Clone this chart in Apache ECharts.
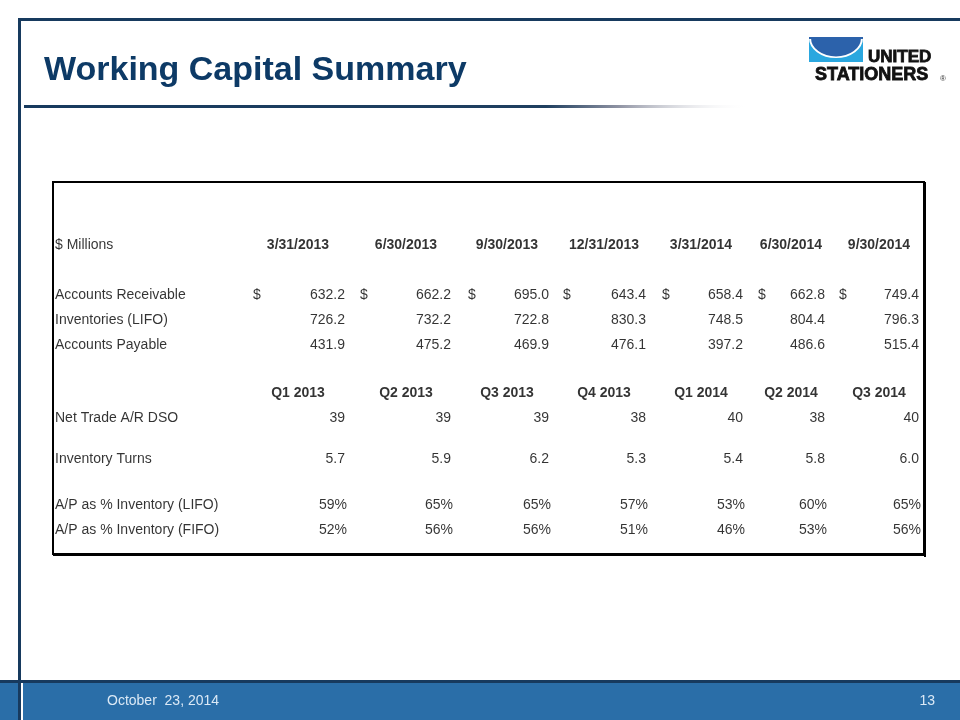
<!DOCTYPE html>
<html><head><meta charset="utf-8">
<script src="https://cdn.jsdelivr.net/npm/echarts@6/dist/echarts.min.js"></script>
<style>html,body{margin:0;padding:0;background:#fff}#c{width:960px;height:720px}</style>
</head><body><div id="c"></div>
<script>
// ---------- data ----------
const dates = ['3/31/2013','6/30/2013','9/30/2013','12/31/2013','3/31/2014','6/30/2014','9/30/2014'];
const quarters = ['Q1 2013','Q2 2013','Q3 2013','Q4 2013','Q1 2014','Q2 2014','Q3 2014'];
const rowLabels = ['$ Millions','Accounts Receivable','Inventories (LIFO)','Accounts Payable',
  'Net Trade A/R DSO','Inventory Turns','A/P as % Inventory (LIFO)','A/P as % Inventory (FIFO)'];
const accountsReceivable = [632.2, 662.2, 695.0, 643.4, 658.4, 662.8, 749.4];
const inventoriesLIFO = [726.2, 732.2, 722.8, 830.3, 748.5, 804.4, 796.3];
const accountsPayable = [431.9, 475.2, 469.9, 476.1, 397.2, 486.6, 515.4];
const netTradeDSO = [39, 39, 39, 38, 40, 38, 40];
const inventoryTurns = [5.7, 5.9, 6.2, 5.3, 5.4, 5.8, 6.0];
const apPctLIFO = [59, 65, 65, 57, 53, 60, 65];
const apPctFIFO = [52, 56, 56, 51, 46, 53, 56];

// ---------- layout (table column / row placement) ----------
const LABEL_X = 55;
const COL_RIGHT = [345, 451, 549, 646, 743, 825, 919];
const HEAD_CENTER = [298, 406, 507, 604, 701, 791, 879];
const DOLLAR_LEFT = [253, 360, 468, 563, 662, 758, 839];
const ROW_Y = [245, 295, 320, 345, 418, 459, 505, 530]; // per rowLabels
const QHEAD_Y = 393;
const FONT = '"Liberation Sans", Arial, sans-serif';
const NAVY = '#173a5e';

function textSeries(name, pts, position, bold) {
  return {
    type: 'scatter', name, symbolSize: 0, silent: true, animation: false,
    data: pts,
    label: {
      show: true, position, distance: 0,
      formatter: p => p.value[2],
      fontFamily: FONT, fontSize: 14, color: '#000',
      fontWeight: bold ? 'bold' : 'normal'
    }
  };
}

const series = [];
series.push(textSeries('rowLabels', rowLabels.map((t, i) => [LABEL_X, ROW_Y[i], t]), 'right', false));
series.push(textSeries('dates', dates.map((t, i) => [HEAD_CENTER[i], ROW_Y[0], t]), 'inside', true));
series.push(textSeries('quarters', quarters.map((t, i) => [HEAD_CENTER[i], QHEAD_Y, t]), 'inside', true));
series.push(textSeries('dollar', dates.map((t, i) => [DOLLAR_LEFT[i], ROW_Y[1], '$']), 'right', false));
series.push(textSeries('ar', accountsReceivable.map((v, i) => [COL_RIGHT[i], ROW_Y[1], v.toFixed(1)]), 'left', false));
series.push(textSeries('inv', inventoriesLIFO.map((v, i) => [COL_RIGHT[i], ROW_Y[2], v.toFixed(1)]), 'left', false));
series.push(textSeries('ap', accountsPayable.map((v, i) => [COL_RIGHT[i], ROW_Y[3], v.toFixed(1)]), 'left', false));
series.push(textSeries('dso', netTradeDSO.map((v, i) => [COL_RIGHT[i], ROW_Y[4], String(v)]), 'left', false));
series.push(textSeries('turns', inventoryTurns.map((v, i) => [COL_RIGHT[i], ROW_Y[5], v.toFixed(1)]), 'left', false));
series.push(textSeries('lifo', apPctLIFO.map((v, i) => [COL_RIGHT[i] + 2, ROW_Y[6], v + '%']), 'left', false));
series.push(textSeries('fifo', apPctFIFO.map((v, i) => [COL_RIGHT[i] + 2, ROW_Y[7], v + '%']), 'left', false));

const TB = { l: 53, t: 182, r: 924, b: 554 };

const chart = echarts.init(document.getElementById('c'), null, { renderer: 'canvas', width: 960, height: 720 });
chart.setOption({
  backgroundColor: '#fff',
  animation: false,
  grid: { left: TB.l, top: TB.t, width: TB.r - TB.l, height: TB.b - TB.t,
          show: true, borderColor: '#000', borderWidth: 2, backgroundColor: 'transparent' },
  xAxis: { type: 'value', min: TB.l, max: TB.r, show: false },
  yAxis: { type: 'value', min: TB.t, max: TB.b, inverse: true, show: false },
  series,
  graphic: [
    // frame
    { type: 'rect', shape: { x: 18, y: 18, width: 942, height: 3 }, style: { fill: NAVY }, silent: true },
    { type: 'rect', shape: { x: 18, y: 18, width: 3, height: 702 }, style: { fill: NAVY }, silent: true },
    // title
    { type: 'text', x: 44, y: 71, style: { text: 'Working Capital Summary', fill: '#0d3a66',
      font: 'bold 34px "Liberation Sans", Arial, sans-serif', textVerticalAlign: 'middle' }, silent: true },
    { type: 'rect', shape: { x: 24, y: 105, width: 725, height: 3 }, silent: true,
      style: { fill: { type: 'linear', x: 0, y: 0, x2: 1, y2: 0, colorStops: [
        { offset: 0, color: NAVY }, { offset: 0.72, color: '#1f3f5f' }, { offset: 0.82, color: '#8f93a3' },
        { offset: 1, color: 'rgba(255,255,255,0)' }] } } },
    // table shadow thickening
    { type: 'rect', shape: { x: TB.r, y: TB.t, width: 2, height: TB.b - TB.t + 3 }, style: { fill: '#000' }, silent: true },
    { type: 'rect', shape: { x: TB.l, y: TB.b, width: TB.r - TB.l + 2, height: 2 }, style: { fill: '#000' }, silent: true },
    // footer
    { type: 'rect', shape: { x: 0, y: 680, width: 960, height: 40 }, style: { fill: '#2a6ea8' }, silent: true },
    { type: 'rect', shape: { x: 0, y: 680, width: 960, height: 3 }, style: { fill: NAVY }, silent: true },
    { type: 'rect', shape: { x: 18, y: 680, width: 3, height: 40 }, style: { fill: NAVY }, silent: true },
    { type: 'rect', shape: { x: 21, y: 683, width: 2, height: 37 }, style: { fill: '#fff' }, silent: true },
    { type: 'text', x: 107, y: 701, style: { text: 'October  23, 2014', fill: '#dbe9f6',
      font: '14px "Liberation Sans", Arial, sans-serif', textVerticalAlign: 'middle' }, silent: true },
    { type: 'text', x: 935, y: 701, style: { text: '13', fill: '#dbe9f6', textAlign: 'right',
      font: '14px "Liberation Sans", Arial, sans-serif', textVerticalAlign: 'middle' }, silent: true },
    // logo
    { type: 'group', x: 809, y: 38, silent: true, children: [
      { type: 'rect', shape: { x: 0, y: 0, width: 54, height: 24 }, style: { fill: '#2aa7df' } },
      { type: 'sector', shape: { cx: 27, cy: 0, r: 26, r0: 0, startAngle: 0, endAngle: Math.PI },
        scaleY: 0.74, originX: 27, originY: 0, style: { fill: '#2c62ab', stroke: '#fff', lineWidth: 2 } },
      { type: 'rect', shape: { x: 0, y: -1, width: 54, height: 2 }, style: { fill: '#2c62ab' } },
      { type: 'text', x: 59, y: 19, style: { text: 'UNITED', fill: '#111', textVerticalAlign: 'middle',
        stroke: '#111', lineWidth: 0.8, font: 'bold 17px "Liberation Sans", Arial, sans-serif' } },
      { type: 'text', x: 6, y: 37, style: { text: 'STATIONERS', fill: '#111', textVerticalAlign: 'middle',
        stroke: '#111', lineWidth: 0.8, font: 'bold 18px "Liberation Sans", Arial, sans-serif' } },
      { type: 'text', x: 131, y: 41, style: { text: '®', fill: '#333', textVerticalAlign: 'middle',
        font: '8px "Liberation Sans", Arial, sans-serif' } }
    ] }
  ]
});
</script>
</body></html>
